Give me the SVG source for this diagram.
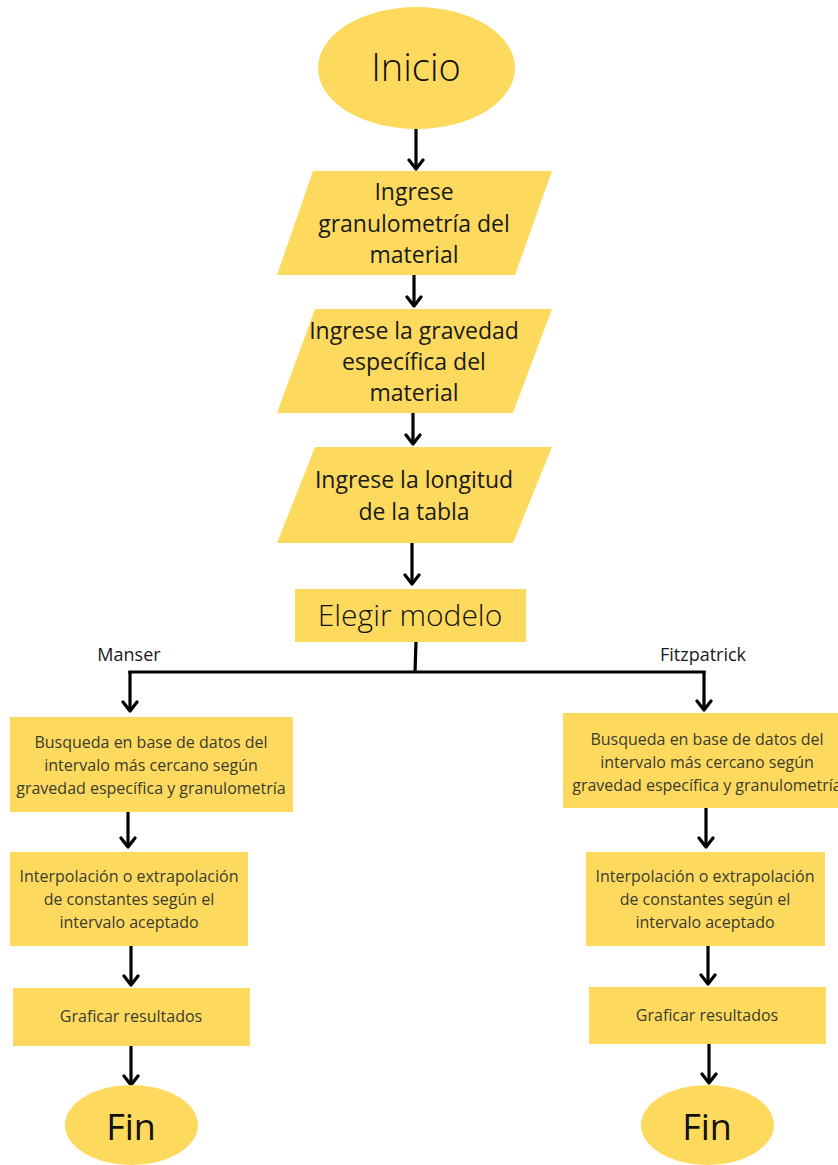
<svg xmlns="http://www.w3.org/2000/svg" width="838" height="1165" viewBox="0 0 838 1165">
<defs>
<marker id="ah" viewBox="0 0 14 18" refX="11" refY="9" markerWidth="14" markerHeight="18" markerUnits="userSpaceOnUse" orient="auto">
<path d="M2,2 L11,9 L2,16" fill="none" stroke="#000" stroke-width="3.2" stroke-linecap="round" stroke-linejoin="round"/>
</marker>
<style>
.shape{fill:#FDDA5E;stroke:none}
.big{font-family:"Open Sans","Liberation Sans",sans-serif;font-weight:300;fill:#111;text-anchor:middle}
.fin{font-family:"Open Sans","Liberation Sans",sans-serif;font-weight:400;font-size:36px;fill:#111;text-anchor:middle}
.mid{font-family:"Open Sans","Liberation Sans",sans-serif;font-size:23px;fill:#1a1a1a;text-anchor:middle}
.sm{font-family:"Open Sans","Liberation Sans",sans-serif;font-size:16px;fill:#3a3a30;text-anchor:middle}
.lbl{font-family:"Open Sans","Liberation Sans",sans-serif;font-size:18px;fill:#1a1a1a;text-anchor:middle}
.con{fill:none;stroke:#000;stroke-width:3.2}
.arr{fill:none;stroke:#000;stroke-width:3.2;marker-end:url(#ah)}
</style>
</defs>
<rect width="838" height="1165" fill="#fff"/>
<g id="connectors">
<line class="arr" x1="416" y1="129" x2="416" y2="169"/>
<line class="arr" x1="414" y1="275" x2="414" y2="306"/>
<line class="arr" x1="413" y1="413" x2="413" y2="444"/>
<line class="arr" x1="412" y1="543" x2="412" y2="584"/>
<polyline class="con" points="416,642 415,672"/>
<polyline class="con" points="128.4,672 705.6,672"/>
<line class="arr" x1="130" y1="671" x2="130" y2="711"/>
<line class="arr" x1="704" y1="671" x2="704" y2="710"/>
<line class="arr" x1="128" y1="812" x2="128" y2="847"/>
<line class="arr" x1="706" y1="808" x2="706" y2="847"/>
<line class="arr" x1="131" y1="946" x2="131" y2="985"/>
<line class="arr" x1="708" y1="946" x2="708" y2="984"/>
<line class="arr" x1="131" y1="1046" x2="131" y2="1085"/>
<line class="arr" x1="709" y1="1044" x2="709" y2="1083"/>
<text class="lbl" x="129" y="661">Manser</text>
<text class="lbl" x="703" y="661">Fitzpatrick</text>
</g>
<g id="inicio">
<ellipse class="shape" cx="416.5" cy="68" rx="98.5" ry="61"/>
<text class="big" x="416" y="81" font-size="38">Inicio</text>
</g>
<g id="ingrese-granulometria">
<polygon class="shape" points="313,171 552,171 515,275 277,275"/>
<text class="mid" x="414" y="200">Ingrese</text>
<text class="mid" x="414" y="232">granulometría del</text>
<text class="mid" x="414" y="263">material</text>
</g>
<g id="ingrese-gravedad">
<polygon class="shape" points="315,309 552,309 513,413 277,413"/>
<text class="mid" x="414" y="339">Ingrese la gravedad</text>
<text class="mid" x="414" y="370">específica del</text>
<text class="mid" x="414" y="401">material</text>
</g>
<g id="ingrese-longitud">
<polygon class="shape" points="315,447 552,447 513,543 277,543"/>
<text class="mid" x="414" y="488">Ingrese la longitud</text>
<text class="mid" x="414" y="520">de la tabla</text>
</g>
<g id="elegir-modelo">
<rect class="shape" x="295" y="589" width="231" height="53"/>
<text class="big" x="410" y="626" font-size="30">Elegir modelo</text>
</g>
<g id="manser-busqueda">
<rect class="shape" x="10" y="717" width="283" height="95"/>
<text class="sm" x="151" y="748">Busqueda en base de datos del</text>
<text class="sm" x="151" y="771">intervalo más cercano según</text>
<text class="sm" x="151" y="794">gravedad específica y granulometría</text>
</g>
<g id="manser-interpolacion">
<rect class="shape" x="10" y="852" width="238" height="94"/>
<text class="sm" x="129" y="882">Interpolación o extrapolación</text>
<text class="sm" x="129" y="905">de constantes según el</text>
<text class="sm" x="129" y="928">intervalo aceptado</text>
</g>
<g id="manser-graficar">
<rect class="shape" x="13" y="988" width="237" height="58"/>
<text class="sm" x="131" y="1022">Graficar resultados</text>
</g>
<g id="manser-fin">
<ellipse class="shape" cx="131.5" cy="1125" rx="66.5" ry="40"/>
<text class="fin" x="131" y="1140">Fin</text>
</g>
<g id="fitz-busqueda">
<rect class="shape" x="563" y="713" width="288" height="95"/>
<text class="sm" x="707" y="745">Busqueda en base de datos del</text>
<text class="sm" x="707" y="768">intervalo más cercano según</text>
<text class="sm" x="707" y="791">gravedad específica y granulometría</text>
</g>
<g id="fitz-interpolacion">
<rect class="shape" x="586" y="852" width="239" height="94"/>
<text class="sm" x="705" y="882">Interpolación o extrapolación</text>
<text class="sm" x="705" y="905">de constantes según el</text>
<text class="sm" x="705" y="928">intervalo aceptado</text>
</g>
<g id="fitz-graficar">
<rect class="shape" x="589" y="987" width="237" height="57"/>
<text class="sm" x="707" y="1021">Graficar resultados</text>
</g>
<g id="fitz-fin">
<ellipse class="shape" cx="707.5" cy="1125" rx="66.5" ry="40"/>
<text class="fin" x="707" y="1140">Fin</text>
</g>
</svg>
